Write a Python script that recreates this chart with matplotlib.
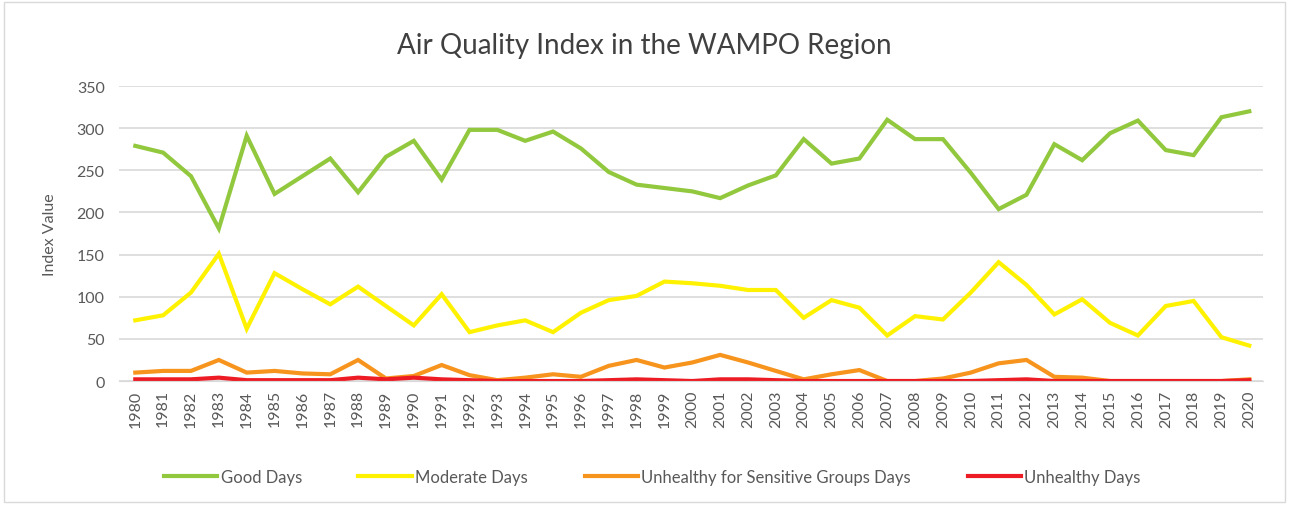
import matplotlib
matplotlib.use('Agg')
import matplotlib.pyplot as plt
from matplotlib.patches import Rectangle

years = list(range(1980, 2021))
good_days = [279, 271, 243, 181, 291, 222, 243, 264, 224, 266,
             285, 239, 298, 298, 285, 296, 276, 248, 233, 229,
             225, 217, 232, 244, 287, 258, 264, 310, 287, 287,
             247, 204, 221, 281, 262, 294, 309, 274, 268, 313, 320]
moderate_days = [72, 78, 105, 151, 62, 128, 109, 91, 112, 89,
                 66, 103, 58, 66, 72, 58, 81, 96, 101, 118,
                 116, 113, 108, 108, 75, 96, 87, 54, 77, 73,
                 105, 141, 114, 79, 97, 69, 54, 89, 95, 52, 42]
sensitive_days = [10, 12, 12, 25, 10, 12, 9, 8, 25, 3,
                  6, 19, 7, 1, 4, 8, 5, 18, 25, 16,
                  22, 31, 22, 12, 2, 8, 13, 0, 0, 3,
                  10, 21, 25, 5, 4, 0, 0, 0, 0, 0, 2]
unhealthy_days = [2, 2, 2, 4, 1, 1, 1, 1, 4, 2,
                  4, 2, 1, 0, 0, 0, 0, 1, 2, 1,
                  0, 2, 2, 1, 0, 0, 0, 0, 0, 0,
                  0, 1, 2, 0, 0, 0, 0, 0, 0, 0, 1]

series = [
    ('Good Days', good_days, '#92c83e'),
    ('Moderate Days', moderate_days, '#fff200'),
    ('Unhealthy for Sensitive Groups Days', sensitive_days, '#f7941d'),
    ('Unhealthy Days', unhealthy_days, '#ed1c24'),
]

plt.rcParams['font.family'] = ['Lato', 'DejaVu Sans']
fig = plt.figure(figsize=(12.89, 5.06), dpi=100)
ax = fig.add_axes([0.092, 0.245, 0.888, 0.583])

for name, vals, col in series:
    ax.plot(years, vals, color=col, linewidth=3, label=name, solid_joinstyle='miter')

ax.set_xlim(1979.4, 2020.5)
ax.set_ylim(0, 350)
ax.set_yticks(range(0, 351, 50))
ax.set_xticks(years)
ax.set_xticklabels([str(y) for y in years], rotation=90)
ax.tick_params(axis='both', length=0, colors='#595959', labelsize=11.5)
ax.tick_params(axis='x', pad=6)
ax.tick_params(axis='y', pad=10)
ax.grid(axis='y', color='#d9d9d9', linewidth=1.2)
ax.set_axisbelow(True)
for s in ['top', 'right', 'left']:
    ax.spines[s].set_visible(False)
ax.spines['bottom'].set_color('#d9d9d9')
ax.set_ylabel('Index Value', color='#595959', fontsize=11.5, labelpad=14)

fig.suptitle('Air Quality Index in the WAMPO Region', y=0.935, fontsize=20, color='#404040')
fig.legend(loc='lower center', ncol=4, frameon=False, bbox_to_anchor=(0.506, 0.01),
           fontsize=12, labelcolor='#595959', handlelength=3.2, columnspacing=3.4,
           handletextpad=0.2)

fig.patches.append(Rectangle((0.003, 0.006), 0.994, 0.988, transform=fig.transFigure,
                             fill=False, edgecolor='#d9d9d9', linewidth=1))

fig.savefig('out.png', dpi=100)
